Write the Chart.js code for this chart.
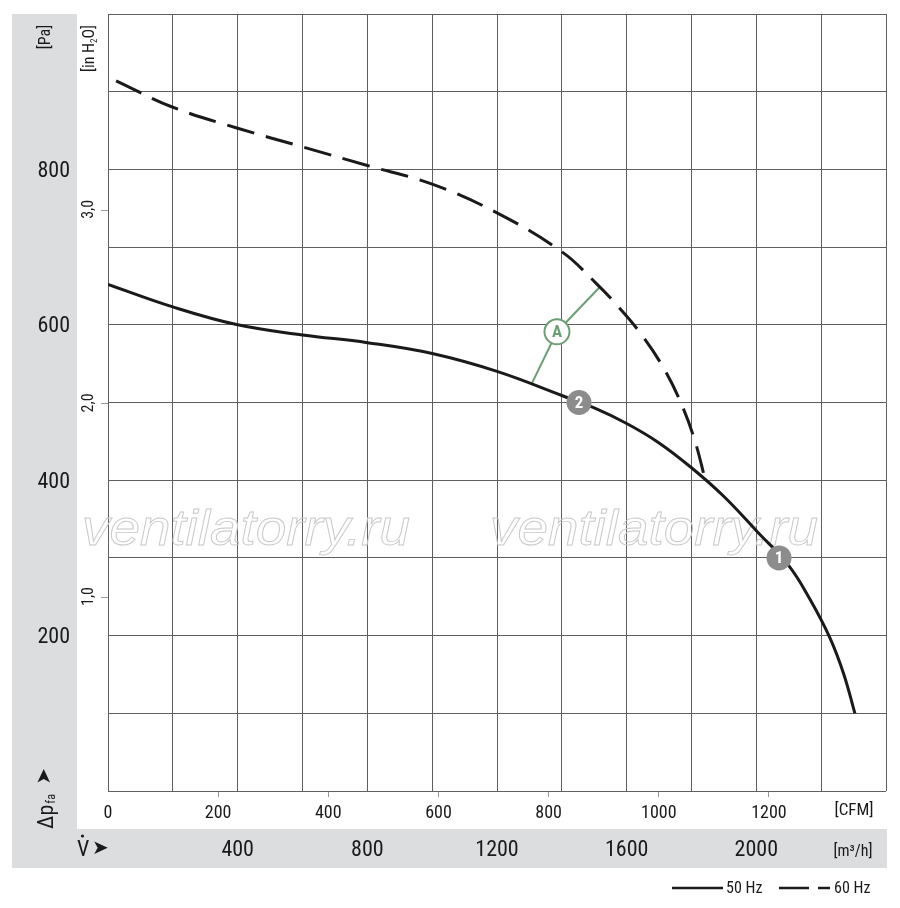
<!DOCTYPE html>
<html>
<head>
<meta charset="utf-8">
<script src="https://cdn.jsdelivr.net/npm/chart.js@4.4.1/dist/chart.umd.min.js"></script>
<style>
  html, body { margin: 0; padding: 0; background: #fff; }
  #wrap { width: 900px; height: 908px; }
</style>
</head>
<body>
<div id="wrap"><canvas id="fan-chart" width="900" height="908"></canvas></div>
<script>
// flow in m3/h, pressure in Pa
const flow50 = [0, 200, 400, 600, 800, 1000, 1200, 1400, 1500, 1600, 1700, 1800, 1900, 2000, 2100, 2165, 2227, 2270, 2304];
const pa50 = [652, 623, 600, 587, 577, 563, 540, 509, 493, 473, 448, 416, 379, 335, 290, 247, 197, 150, 100];
const flow60 = [25, 200, 400, 600, 800, 1000, 1200, 1400, 1502, 1564, 1641, 1713, 1770, 1811, 1842];
const pa60 = [914, 880, 853, 829, 805, 781, 744, 694, 655, 628, 590, 545, 497, 450, 401];

const paTicks = [200, 400, 600, 800];
const flowTicks = [400, 800, 1200, 1600, 2000];
const cfmTicks = [0, 200, 400, 600, 800, 1000, 1200];
const inH2OTicks = [1, 2, 3];
const legendLabels = ["50 Hz", "60 Hz"];

// numbered operating points on the 50 Hz curve
const markerLabels = ["1", "2"];
const markerFlow = [2070, 1453];
const markerPa = [300, 500];

// "A" callout with leaders to both curves
const calloutFlow = 1385;
const calloutPa = 591;
const leaderFlow = [1308, 1518];
const leaderPa = [525, 649];

const CFM = 1.69901;   // m3/h per CFM
const INH2O = 249.089; // Pa per inch of water

const NARROW = '"Roboto Condensed", Roboto, "DejaVu Sans Condensed", sans-serif';
const BAND = "#dcdddf";
const GRID = "#5f5f5f";
const INK = "#1a1a1a";
const GREEN = "#6b9f73";

Chart.defaults.font.family = NARROW;

function pts(xs, ys) {
  return xs.map((x, i) => ({ x: x, y: ys[i] }));
}

// stop the axes from pushing the plot area around for edge labels
function noPadY(s, w) {
  s.width = w;
  s.paddingTop = 0;
  s.paddingBottom = 0;
}
function noPadX(s, h) {
  s.height = h;
  s.paddingLeft = 0;
  s.paddingRight = 0;
}

const decorPlugin = {
  id: "decor",
  beforeDraw(chart) {
    const ctx = chart.ctx;
    ctx.save();
    ctx.fillStyle = "#fff";
    ctx.fillRect(0, 0, chart.width, chart.height);
    ctx.fillStyle = BAND;
    ctx.fillRect(12, 14, 65, 854);
    ctx.fillRect(12, 829, 875, 39);
    ctx.restore();
  },
  beforeDatasetsDraw(chart) {
    // watermark, outlined
    const ctx = chart.ctx;
    ctx.save();
    ctx.font = 'italic 50px "Liberation Sans", "DejaVu Sans", sans-serif';
    const w = ctx.measureText("ventilatorry.ru").width;
    ctx.strokeStyle = "#c8c8c8";
    ctx.lineWidth = 0.9;
    [82, 490].forEach(x0 => {
      ctx.save();
      ctx.translate(x0, 545);
      ctx.scale(328 / w, 1);
      ctx.strokeText("ventilatorry.ru", 0, 0);
      ctx.restore();
    });
    ctx.restore();
  },
  afterDatasetsDraw(chart) {
    const ctx = chart.ctx;
    const xs = chart.scales.x;
    const ys = chart.scales.y;
    ctx.save();
    // callout A
    const ax = xs.getPixelForValue(calloutFlow);
    const ay = ys.getPixelForValue(calloutPa);
    ctx.beginPath();
    ctx.arc(ax, ay, 12.5, 0, Math.PI * 2);
    ctx.fillStyle = "#fff";
    ctx.fill();
    ctx.lineWidth = 2;
    ctx.strokeStyle = GREEN;
    ctx.stroke();
    ctx.fillStyle = GREEN;
    ctx.font = "bold 17px " + NARROW;
    ctx.textAlign = "center";
    ctx.textBaseline = "middle";
    ctx.fillText("A", ax, ay + 1);
    // numbered points
    markerLabels.forEach((lab, i) => {
      const px = xs.getPixelForValue(markerFlow[i]);
      const py = ys.getPixelForValue(markerPa[i]);
      ctx.beginPath();
      ctx.arc(px, py, 12.5, 0, Math.PI * 2);
      ctx.fillStyle = "#8c8c8c";
      ctx.fill();
      ctx.fillStyle = "#fff";
      ctx.font = "bold 17px " + NARROW;
      ctx.fillText(lab, px, py + 1);
    });
    ctx.restore();
  },
  afterDraw(chart) {
    const ctx = chart.ctx;
    const h2o = chart.scales.h2o;
    ctx.save();
    ctx.fillStyle = INK;
    ctx.textBaseline = "middle";

    // in H2O tick labels, rotated
    ctx.font = "16px " + NARROW;
    ctx.textAlign = "center";
    inH2OTicks.forEach(v => {
      const y = h2o.getPixelForValue(v);
      ctx.save();
      ctx.translate(89, y - 1);
      ctx.rotate(-Math.PI / 2);
      ctx.fillText(v.toFixed(1).replace(".", ","), 0, 0);
      ctx.restore();
    });

    // [Pa]
    ctx.save();
    ctx.translate(46, 37);
    ctx.rotate(-Math.PI / 2);
    ctx.font = "16px " + NARROW;
    ctx.fillText("[Pa]", 0, 0);
    ctx.restore();

    // [in H2O]
    ctx.save();
    ctx.translate(90, 72);
    ctx.rotate(-Math.PI / 2);
    ctx.textAlign = "left";
    ctx.font = "16px " + NARROW;
    let cx = 0;
    ctx.fillText("[in H", cx, 0);
    cx += ctx.measureText("[in H").width;
    ctx.font = "9px " + NARROW;
    ctx.fillText("2", cx, 5);
    cx += ctx.measureText("2").width;
    ctx.font = "16px " + NARROW;
    ctx.fillText("O]", cx, 0);
    ctx.restore();

    // delta p_fa with arrow
    ctx.save();
    ctx.translate(47, 829);
    ctx.rotate(-Math.PI / 2);
    ctx.textAlign = "left";
    ctx.font = "22px " + NARROW;
    ctx.fillText("Δp", 0, 0);
    let dx = ctx.measureText("Δp").width;
    ctx.font = "12px " + NARROW;
    ctx.fillText("fa", dx + 1, 5);
    ctx.font = '20px "DejaVu Sans", sans-serif';
    ctx.fillText("➤", dx + 20, -2);
    ctx.restore();

    // V-dot with arrow
    ctx.textAlign = "left";
    ctx.font = "22px " + NARROW;
    ctx.fillText("V", 77, 850);
    ctx.beginPath();
    ctx.arc(82.5, 836, 1.6, 0, Math.PI * 2);
    ctx.fill();
    ctx.font = '20px "DejaVu Sans", sans-serif';
    ctx.fillText("➤", 92, 849);

    // units
    ctx.textAlign = "center";
    ctx.font = "17px " + NARROW;
    ctx.fillText("[CFM]", 854, 811);
    ctx.font = "16px " + NARROW;
    ctx.fillText("[m³/h]", 853, 852);

    // legend
    ctx.lineWidth = 2.5;
    ctx.strokeStyle = INK;
    ctx.beginPath();
    ctx.moveTo(672, 888);
    ctx.lineTo(723, 888);
    ctx.stroke();
    ctx.beginPath();
    ctx.moveTo(779, 888);
    ctx.lineTo(809, 888);
    ctx.moveTo(818, 888);
    ctx.lineTo(830, 888);
    ctx.stroke();
    ctx.font = "16px " + NARROW;
    ctx.textAlign = "left";
    ctx.fillText(legendLabels[0], 726, 889);
    ctx.fillText(legendLabels[1], 834, 889);
    ctx.restore();
  }
};

new Chart(document.getElementById("fan-chart"), {
  type: "line",
  data: {
    datasets: [
      {
        label: legendLabels[0],
        data: pts(flow50, pa50),
        borderColor: INK,
        borderWidth: 3,
        pointRadius: 0,
        tension: 0.4,
        fill: false
      },
      {
        label: legendLabels[1],
        data: pts(flow60, pa60),
        borderColor: INK,
        borderWidth: 3,
        borderDash: [28, 12],
        pointRadius: 0,
        tension: 0.4,
        fill: false
      },
      {
        label: "A1",
        data: pts([calloutFlow, leaderFlow[0]], [calloutPa, leaderPa[0]]),
        borderColor: GREEN,
        borderWidth: 2,
        pointRadius: 0,
        tension: 0
      },
      {
        label: "A2",
        data: pts([calloutFlow, leaderFlow[1]], [calloutPa, leaderPa[1]]),
        borderColor: GREEN,
        borderWidth: 2,
        pointRadius: 0,
        tension: 0
      }
    ]
  },
  options: {
    responsive: false,
    animation: false,
    devicePixelRatio: 1,
    layout: { padding: { left: 0, top: 14, right: 14, bottom: 40 } },
    plugins: { legend: { display: false }, tooltip: { enabled: false } },
    scales: {
      x: {
        type: "linear",
        position: "bottom",
        weight: 2,
        min: 0,
        max: 2400,
        ticks: {
          stepSize: 200,
          autoSkip: false,
          maxRotation: 0,
          padding: 8,
          color: INK,
          font: { size: 22 },
          callback: v => flowTicks.includes(v) ? String(v) : ""
        },
        grid: { color: GRID, drawTicks: false },
        border: { display: false },
        afterFit: s => noPadX(s, 39)
      },
      cfm: {
        type: "linear",
        position: "bottom",
        weight: 1,
        min: 0,
        max: 2400 / CFM,
        afterBuildTicks: s => { s.ticks = cfmTicks.map(v => ({ value: v })); },
        ticks: {
          autoSkip: false,
          maxRotation: 0,
          padding: 6,
          color: INK,
          font: { size: 18 },
          callback: v => String(v)
        },
        grid: {
          drawOnChartArea: false,
          tickLength: 6,
          color: c => (c.tick && c.tick.value === 0) ? "rgba(0,0,0,0)" : "#999"
        },
        border: { display: false },
        afterFit: s => noPadX(s, 38)
      },
      y: {
        type: "linear",
        position: "left",
        weight: 2,
        min: 0,
        max: 1000,
        ticks: {
          stepSize: 100,
          autoSkip: false,
          padding: 7,
          labelOffset: 2,
          color: INK,
          font: { size: 22 },
          callback: v => paTicks.includes(v) ? String(v) : ""
        },
        grid: { color: GRID, drawTicks: false },
        border: { display: false },
        afterFit: s => noPadY(s, 77)
      },
      h2o: {
        type: "linear",
        position: "left",
        weight: 1,
        min: 0,
        max: 1000 / INH2O,
        afterBuildTicks: s => { s.ticks = inH2OTicks.map(v => ({ value: v })); },
        ticks: { display: false },
        grid: { drawOnChartArea: false, tickLength: 7, color: "#999" },
        border: { display: false },
        afterFit: s => noPadY(s, 31)
      }
    }
  },
  plugins: [decorPlugin]
});
</script>
</body>
</html>
